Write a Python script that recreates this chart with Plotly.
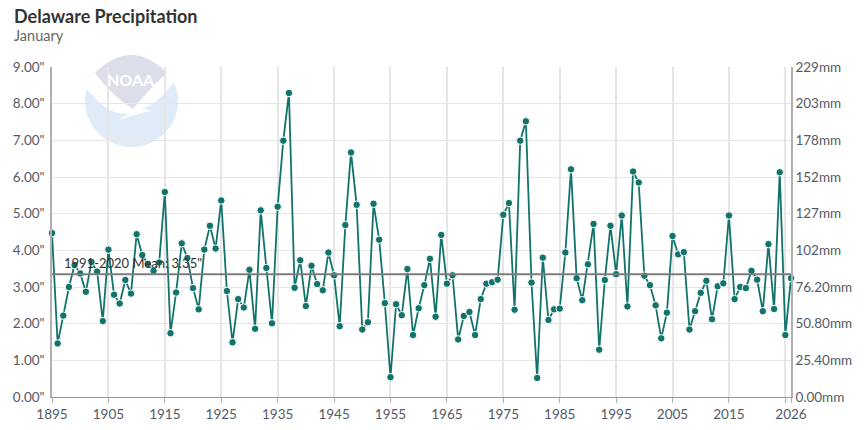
import plotly.graph_objects as go

years = list(range(1895, 2027))
precip = [
    4.47, 1.46, 2.22, 3.00, 3.60, 3.37, 2.87, 3.68, 3.42, 2.07,
    4.02, 2.79, 2.55, 3.19, 2.82, 4.44, 3.87, 3.63, 3.44, 3.67,
    5.59, 1.74, 2.85, 4.19, 3.79, 2.97, 2.39, 4.02, 4.67, 4.05,
    5.36, 2.89, 1.49, 2.67, 2.44, 3.47, 1.86, 5.09, 3.52, 2.01,
    5.19, 6.99, 8.29, 2.98, 3.73, 2.48, 3.58, 3.08, 2.91, 3.94,
    3.32, 1.93, 4.69, 6.67, 5.24, 1.84, 2.04, 5.27, 4.29, 2.56,
    0.54, 2.53, 2.23, 3.49, 1.69, 2.42, 3.05, 3.77, 2.19, 4.42,
    3.09, 3.32, 1.57, 2.21, 2.32, 1.69, 2.67, 3.09, 3.13, 3.20,
    4.97, 5.29, 2.38, 6.99, 7.52, 3.12, 0.52, 3.80, 2.10, 2.39,
    2.41, 3.94, 6.21, 3.24, 2.64, 3.62, 4.72, 1.29, 3.19, 4.67,
    3.35, 4.95, 2.47, 6.15, 5.85, 3.31, 3.05, 2.50, 1.60, 2.30,
    4.39, 3.89, 3.95, 1.84, 2.34, 2.84, 3.17, 2.12, 3.02, 3.10,
    4.95, 2.67, 3.00, 2.97, 3.44, 3.20, 2.34, 4.17, 2.40, 6.13,
    1.69, 3.24,
]
mean_val = 3.35
mean_label = '1991-2020 Mean: 3.35"'

# 2025 only gets a tick and gridline, its label would run into 2026
x_ticks = [1895, 1905, 1915, 1925, 1935, 1945, 1955, 1965, 1975, 1985, 1995, 2005, 2015, 2025, 2026]
x_labels = ["1895", "1905", "1915", "1925", "1935", "1945", "1955", "1965", "1975", "1985", "1995", "2005", "2015", "", "2026"]
inch_ticks = [0, 1, 2, 3, 4, 5, 6, 7, 8, 9]
inch_labels = ['0.00"', '1.00"', '2.00"', '3.00"', '4.00"', '5.00"', '6.00"', '7.00"', '8.00"', '9.00"']
mm_ticks = [0, 25.4, 50.8, 76.2, 101.6, 127, 152.4, 177.8, 203.2, 228.6]
mm_labels = ["0.00mm", "25.40mm", "50.80mm", "76.20mm", "102mm", "127mm", "152mm", "178mm", "203mm", "229mm"]

FONT = "Lato"
TEAL = "#12736b"
TEXT = "#555a66"
GRID = "#e6e6e6"
AXIS = "#b0b0b0"

PLOT_L, PLOT_R, PLOT_T, PLOT_B = 52, 791, 67, 397


def px(x):
    return (x - PLOT_L) / (PLOT_R - PLOT_L)


def py(y):
    return (PLOT_B - y) / (PLOT_B - PLOT_T)


def logo_path(parts):
    out = []
    for p in parts:
        if isinstance(p, str):
            out.append(p)
        else:
            out.append(f"{px(p[0]):.4f} {py(p[1]):.4f}")
    return " ".join(out)


fig = go.Figure()

# mm axis only needs something attached to it so it gets drawn
fig.add_trace(go.Scatter(
    x=years, y=[v * 25.4 for v in precip], yaxis="y2",
    mode="lines", line=dict(width=0), opacity=0, hoverinfo="skip", showlegend=False,
))
fig.add_trace(go.Scatter(
    x=years, y=precip, mode="lines+markers",
    line=dict(color=TEAL, width=1.8),
    marker=dict(color=TEAL, size=7.5, line=dict(color="white", width=1)),
    showlegend=False, cliponaxis=False,
))
fig.add_trace(go.Scatter(
    x=[years[0], years[-1]], y=[mean_val, mean_val], mode="lines",
    line=dict(color="#7d7d7d", width=2), hoverinfo="skip", showlegend=False,
))

# NOAA logo behind the plot
fig.add_shape(type="circle", xref="paper", yref="paper", layer="below",
              x0=px(85), x1=px(178), y0=py(147), y1=py(55),
              fillcolor="#dfecf7", line_width=0)
fig.add_shape(type="path", xref="paper", yref="paper", layer="below",
              path=logo_path(["M", (78, 48), "L", (78, 88), "L", (86, 88),
                              "C", (100, 105), (115, 118), (133, 113),
                              "C", (150, 108), (165, 95), (174, 82),
                              "L", (184, 48), "Z"]),
              fillcolor="white", line_width=0)
fig.add_shape(type="path", xref="paper", yref="paper", layer="below",
              path=logo_path(["M", (95, 73), "Q", (131, 37), (167, 73),
                              "Q", (150, 88), (133, 109),
                              "Q", (113, 97), (95, 73), "Z"]),
              fillcolor="#dcdfe9", line_width=0)
fig.add_shape(type="path", xref="paper", yref="paper", layer="below",
              path=logo_path(["M", (117, 120), "C", (128, 118), (140, 112), (152, 111),
                              "L", (146, 109), "C", (136, 110), (126, 116), (117, 120), "Z"]),
              fillcolor="white", line_width=0)
fig.add_annotation(text="<b>NOAA</b>", xref="paper", yref="paper", x=px(131), y=py(79),
                   xanchor="center", yanchor="middle",
                   showarrow=False, font=dict(family=FONT, size=16, color="white"))

fig.add_annotation(text="<b>Delaware Precipitation</b>", xref="paper", yref="paper",
                   x=px(12), y=py(16), xanchor="left", yanchor="middle", showarrow=False,
                   font=dict(family=FONT, size=18, color="#333333"))
fig.add_annotation(text="January", xref="paper", yref="paper",
                   x=px(12), y=py(36), xanchor="left", yanchor="middle", showarrow=False,
                   font=dict(family=FONT, size=14.5, color="#666666"))
fig.add_annotation(text=mean_label, x=1896.7, y=mean_val, xanchor="left", yanchor="bottom", yshift=1,
                   showarrow=False, font=dict(family=FONT, size=13, color="#333333"))

fig.update_layout(
    width=864, height=430,
    margin=dict(l=PLOT_L, r=864 - PLOT_R, t=PLOT_T, b=430 - PLOT_B),
    paper_bgcolor="white", plot_bgcolor="rgba(0,0,0,0)",
    font=dict(family=FONT, size=13.5, color=TEXT),
    xaxis=dict(
        range=[1895, 2026], tickmode="array", tickvals=x_ticks, ticktext=x_labels,
        tickangle=0, automargin=False,
        showgrid=True, gridcolor=GRID, gridwidth=1.5,
        ticks="outside", ticklen=5, tickcolor=AXIS,
        showline=True, linecolor="#9a9a9a", linewidth=1,
        zeroline=False, tickfont=dict(size=13.5, color=TEXT),
    ),
    yaxis=dict(
        range=[0, 9], tickmode="array", tickvals=inch_ticks, ticktext=inch_labels,
        automargin=False, ticklabelstandoff=3,
        showgrid=True, gridcolor=GRID, gridwidth=1,
        showline=True, linecolor=AXIS, linewidth=1.5, ticks="",
        zeroline=False, tickfont=dict(size=13.5, color=TEXT),
    ),
    yaxis2=dict(
        range=[0, 228.6], overlaying="y", side="right", tickmode="array",
        tickvals=mm_ticks, ticktext=mm_labels, showgrid=False, automargin=False,
        showline=True, linecolor=AXIS, linewidth=1.5, ticks="",
        zeroline=False, tickfont=dict(size=13.5, color=TEXT),
    ),
)

# drop the page's default 8px body margin so the figure fills the window
fig.write_html("out.html", config={"displayModeBar": False},
               post_script="document.body.style.margin='0';")
